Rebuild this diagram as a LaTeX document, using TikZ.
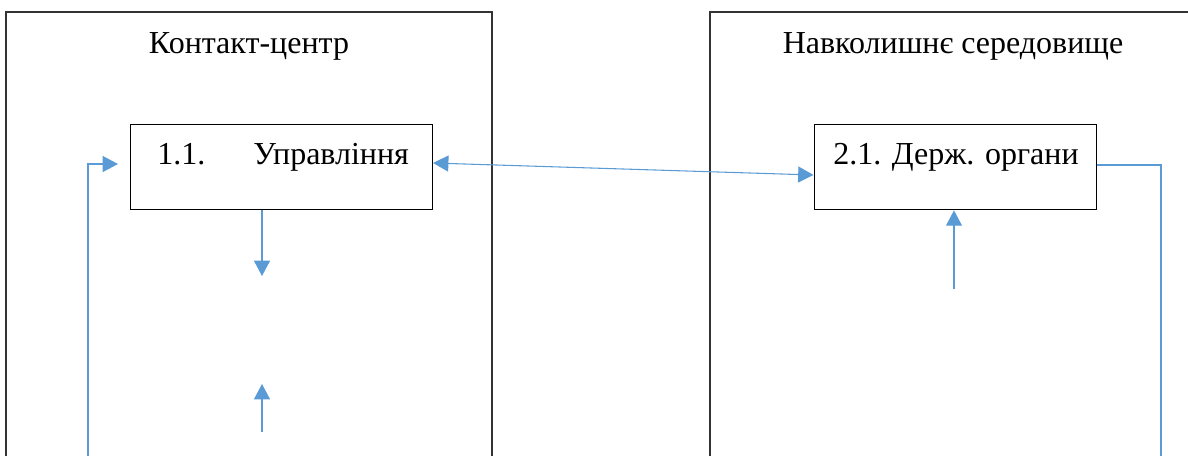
\documentclass[tikz,border=0pt]{standalone}
\usepackage{fontspec}
\setmainfont{Liberation Serif}
\usetikzlibrary{arrows.meta}
\definecolor{linkblue}{HTML}{5B9BD5}
\begin{document}
\begin{tikzpicture}[x=0.75pt,y=-0.75pt,
  frame/.style={draw=black!80,line width=1pt},
  unit/.style={draw=black,line width=0.8pt,rectangle,inner sep=0pt},
  caption/.style={inner sep=0pt,font=\fontsize{24pt}{28pt}\selectfont},
  link/.style={draw=linkblue,line width=0.8pt},
  tip/.style={-{Triangle[length=11.5pt,width=12pt]}},
  tips/.style={{Triangle[length=11.5pt,width=12pt]}-{Triangle[length=11.5pt,width=12pt]}}]
  \useasboundingbox (0,0) rectangle (1188,455);

  % outer areas, open at the bottom edge of the page
  \draw[frame] (6,470) -- (6,12) -- (492,12) -- (492,470);
  \draw[frame] (710,470) -- (710,12) -- (1200,12);

  \node[caption,anchor=base] (t1) at (249,53) {Контакт-центр};
  \node[caption,anchor=base] (t2) at (953,53) {Навколишнє середовище};

  % inner units
  \node[unit,minimum width=226.5pt,minimum height=64pt,anchor=north west] (mgmt) at (130,124) {};
  \node[unit,minimum width=211.5pt,minimum height=64pt,anchor=north west] (gov) at (813.5,124) {};
  \node[caption,anchor=base west] (mgmtt) at (157,164) {\makebox[72pt][l]{1.1.}Управління};
  \node[caption,anchor=base west] (govt) at (833,164) {2.1. Держ. органи};

  % loose connector ends
  \coordinate (fbL) at (88,470);
  \coordinate (downT) at (262,276);
  \coordinate (upB) at (262,432);
  \coordinate (upT) at (262,384);
  \coordinate (govB) at (954,289);
  \coordinate (fbR) at (1161,470);

  \draw[link,tip] (fbL) |- ([xshift=-9]mgmt.west |- 0,164);
  \draw[link,tips] (mgmt.east |- 0,163) -- (gov.west |- 0,175);
  \draw[link,tip] (mgmt.south -| downT) -- (downT);
  \draw[link,tip] (upB) -- (upT);
  \draw[link,tip] (govB) -- (gov.south -| govB);
  \draw[link] (gov.east |- 0,165) -| (fbR);
\end{tikzpicture}
\end{document}
